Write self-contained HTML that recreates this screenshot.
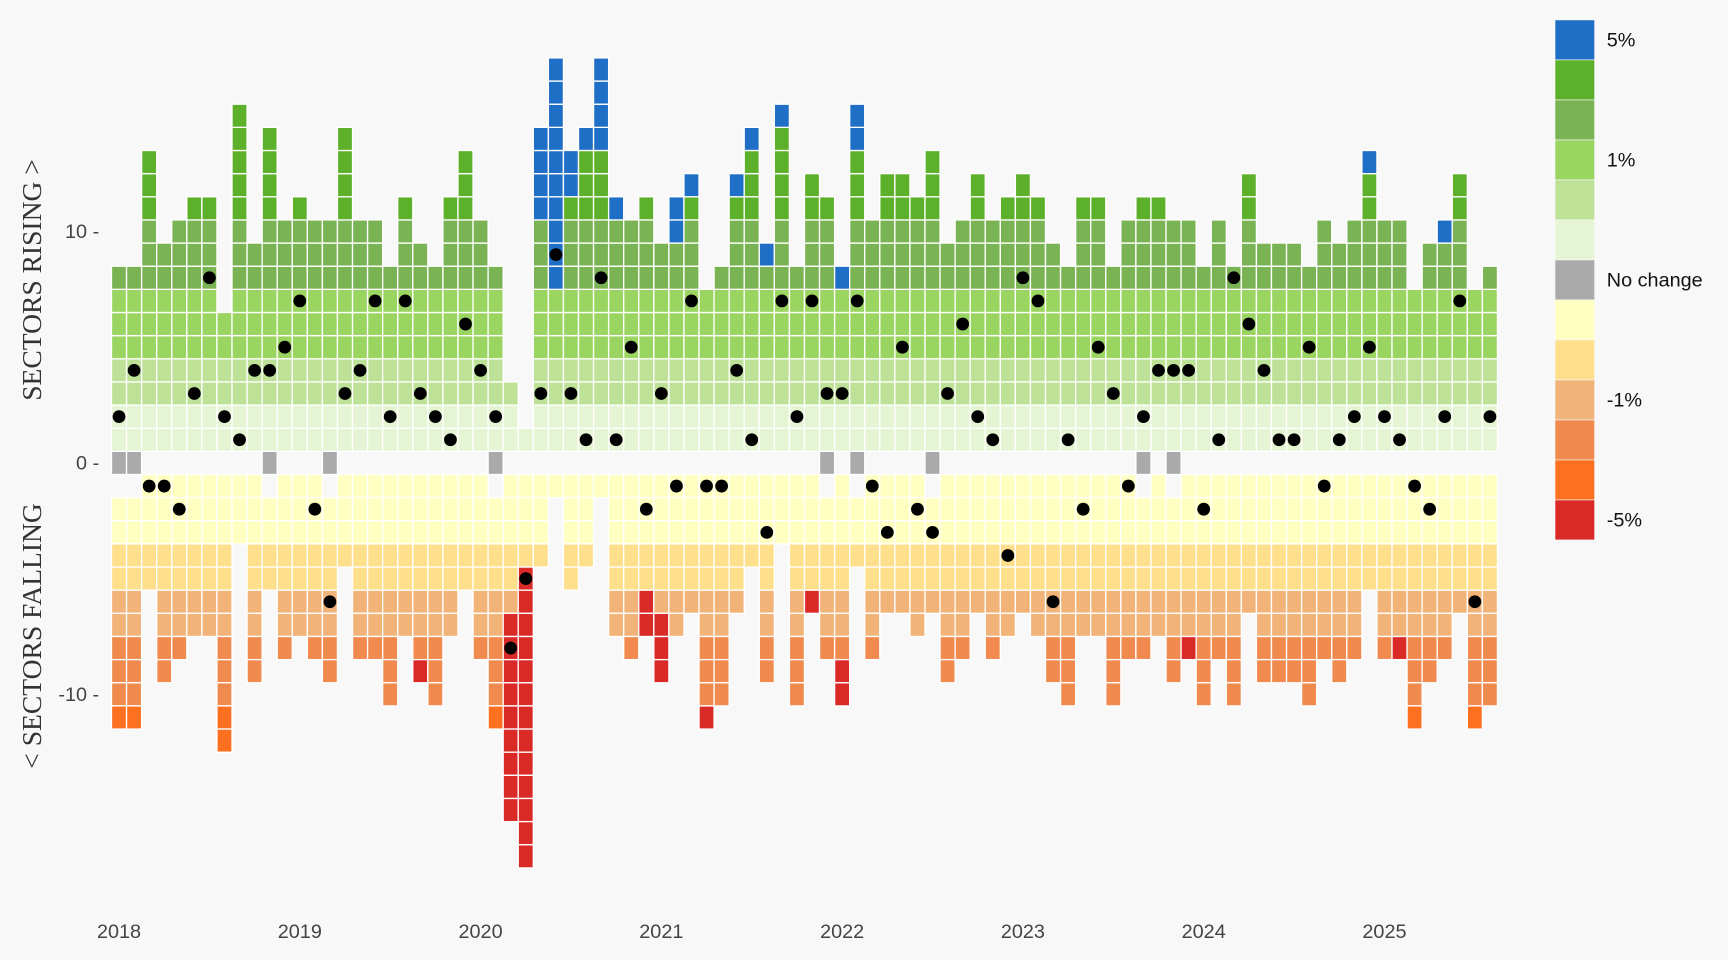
<!DOCTYPE html>
<html><head><meta charset="utf-8"><style>
html,body{margin:0;padding:0;background:#f8f8f8;}
svg{display:block;font-family:"Liberation Sans",sans-serif;}
</style></head><body>
<svg id="chart" width="1728" height="960" viewBox="0 0 1568 871" xmlns="http://www.w3.org/2000/svg">
<rect width="1568" height="871" fill="#f8f8f8"/>
<g id="cells"></g>
<g id="dots"></g>
<g id="axes"></g>
<g id="legend"></g>
<text transform="translate(37,254) rotate(-90)" text-anchor="middle" font-family="Liberation Serif, serif" font-size="25" fill="#333">SECTORS RISING &gt;</text>
<text transform="translate(37,577) rotate(-90)" text-anchor="middle" font-family="Liberation Serif, serif" font-size="25" fill="#333">&lt; SECTORS FALLING</text>
</svg>
<script>
const upTotal=[8,8,13,9,10,11,11,6,15,9,14,10,11,10,10,14,10,10,8,11,9,8,11,13,10,8,3,1,14,17,13,14,17,11,10,11,9,11,12,7,8,12,14,9,15,8,12,11,8,15,10,12,12,11,13,9,10,12,10,11,12,11,9,8,11,11,8,10,11,11,10,10,8,10,8,12,9,9,9,8,10,9,10,13,10,10,7,9,10,12,7,8];
const upBlue=[0,0,0,0,0,0,0,0,0,0,0,0,0,0,0,0,0,0,0,0,0,0,0,0,0,0,0,0,4,10,2,1,4,1,0,0,0,2,1,0,0,1,1,1,1,0,0,0,1,2,0,0,0,0,0,0,0,0,0,0,0,0,0,0,0,0,0,0,0,0,0,0,0,0,0,0,0,0,0,0,0,0,0,1,0,0,0,0,1,0,0,0];
const downTotal=[10,10,5,9,8,7,7,12,3,9,4,8,7,8,8,4,8,8,10,7,9,10,7,5,8,10,15,17,4,1,5,4,1,7,8,7,9,7,6,11,10,6,4,9,3,10,6,7,10,3,8,6,6,7,5,9,8,6,8,7,6,7,9,10,7,7,10,8,7,7,8,8,10,8,10,6,9,9,9,10,8,9,8,5,8,8,11,9,8,6,11,10];
const downRed=[0,0,0,0,0,0,0,0,0,0,0,0,0,0,0,0,0,0,0,0,1,0,0,0,0,0,9,13,0,0,0,0,0,0,0,2,3,0,0,1,0,0,0,0,0,0,1,0,2,0,0,0,0,0,0,0,0,0,0,0,0,0,0,0,0,0,0,0,0,0,0,1,0,0,0,0,0,0,0,0,0,0,0,0,0,1,0,0,0,0,0,0];
const noChange=[1,1,0,0,0,0,0,0,0,0,1,0,0,0,1,0,0,0,0,0,0,0,0,0,0,1,0,0,0,0,0,0,0,0,0,0,0,0,0,0,0,0,0,0,0,0,0,1,0,1,0,0,0,0,1,0,0,0,0,0,0,0,0,0,0,0,0,0,1,0,1,0,0,0,0,0,0,0,0,0,0,0,0,0,0,0,0,0,0,0,0,0];
const dotValue=[2,4,-1,-1,-2,3,8,2,1,4,4,5,7,-2,-6,3,4,7,2,7,3,2,1,6,4,2,-8,-5,3,9,3,1,8,1,5,-2,3,-1,7,-1,-1,4,1,-3,7,2,7,3,3,7,-1,-3,5,-2,-3,3,6,2,1,-4,8,7,-6,1,-2,5,3,-1,2,4,4,4,-2,1,8,6,4,1,1,5,-1,1,2,5,2,1,-1,-2,2,7,-6,2];
const yearLabels=["2018","2019","2020","2021","2022","2023","2024","2025"];
const yTicks=[10,0,-10];
const legendLabels=["5%","1%","No change","-1%","-5%"];

const NS="http://www.w3.org/2000/svg";
const X0=108, DX=13.67, Y0=420, DY=21, CW=13.67, CH=21;
const xScale=i=>X0+i*DX;
const yScale=v=>Y0-v*DY;
const upCols=["#e5f5d3","#bde297","#9bd561","#7ab354","#5db02a","#1f6fc6"];
const downCols=["#ffffc2","#fedf8c","#f2b378","#f08a4e","#fc7020","#d92a27"];
function mk(tag,attrs,parent){const e=document.createElementNS(NS,tag);for(const k in attrs)e.setAttribute(k,attrs[k]);parent.appendChild(e);return e;}
const cells=document.getElementById('cells'), dots=document.getElementById('dots'), axes=document.getElementById('axes'), legend=document.getElementById('legend');
function upLevel(r){return r<=2?0:r<=4?1:r<=7?2:r<=10?3:4;}
function downLevel(r){return r<=3?0:r<=5?1:r<=7?2:r<=10?3:4;}
const ST={stroke:"#ffffff","stroke-width":1.2};
for(let i=0;i<upTotal.length;i++){
  const cx=xScale(i);
  for(let r=1;r<=upTotal[i];r++){
    const lvl=r>upTotal[i]-upBlue[i]?5:upLevel(r);
    const c=mk('rect',Object.assign({x:cx-CW/2,y:yScale(r)-CH/2,width:CW,height:CH,fill:upCols[lvl]},ST),cells);
    
    
  }
  if(noChange[i]>0){
    const g=mk('rect',Object.assign({x:cx-CW/2,y:yScale(0)-CH/2,width:CW,height:CH,fill:"#aaaaaa"},ST),cells);
    
    
  }
  const off=noChange[i]>0?1:0;
  for(let r=1;r<=downTotal[i];r++){
    const lvl=r>downTotal[i]-downRed[i]?5:downLevel(r+off);
    const c=mk('rect',Object.assign({x:cx-CW/2,y:yScale(-(r+off))-CH/2,width:CW,height:CH,fill:downCols[lvl]},ST),cells);
    
    
  }
  const d=mk('circle',{cx:cx,cy:yScale(dotValue[i]),r:5.8,fill:"#000"},dots);
  
  
}
yTicks.forEach(v=>{
  const t=mk('text',{x:90,y:yScale(v)+6,'text-anchor':'end','font-size':18,fill:'#444'},axes);
  t.textContent=v+" -";
  
  
});
yearLabels.forEach((y,k)=>{
  const t=mk('text',{x:xScale(k*12),y:851,'text-anchor':'middle','font-size':18,fill:'#444'},axes);
  t.textContent=y;
  
  
});
const LH=36.3;
const legCols=["#1f6fc6","#5db02a","#7ab354","#9bd561","#bde297","#e5f5d3","#aaaaaa","#ffffc2","#fedf8c","#f2b378","#f08a4e","#fc7020","#d92a27"];
legCols.forEach((c,j)=>{
  const r=mk('rect',{x:1411,y:18+j*LH,width:36,height:LH,fill:c,stroke:'#f8f8f8','stroke-width':0.6},legend);
  
  
});
const legPos=[0,3,6,9,12];
legendLabels.forEach((s,k)=>{
  const t=mk('text',{x:1458,y:18+legPos[k]*LH+LH/2+6,'font-size':18,fill:'#111'},legend);
  t.textContent=s;
  
  
});
</script>
</body></html>
